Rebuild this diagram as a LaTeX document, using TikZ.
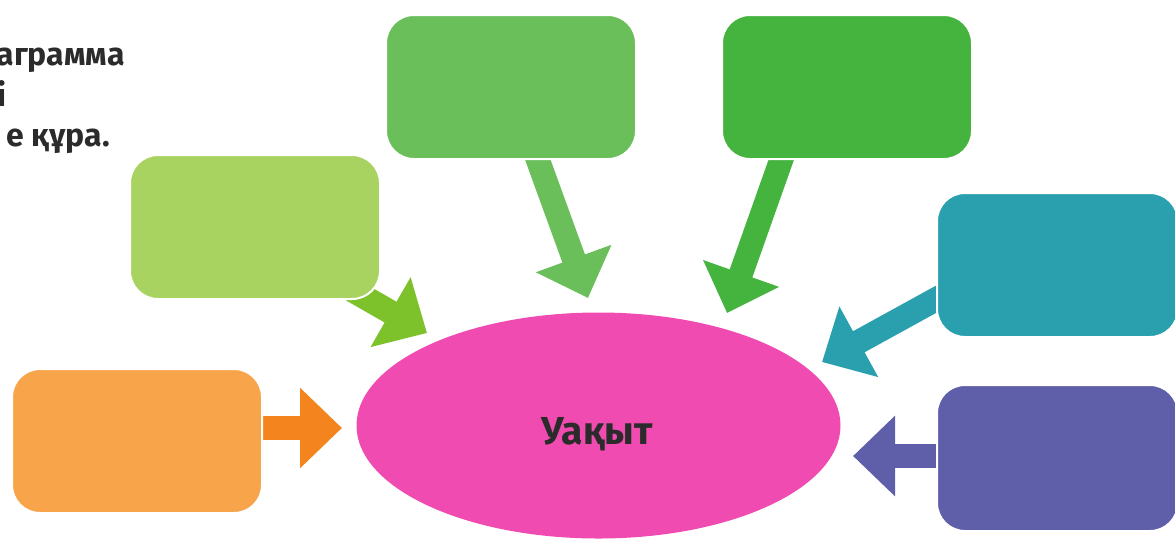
\documentclass[tikz,border=0pt]{standalone}
\usepackage{fontspec}
\setmainfont{Fira Sans}
\usetikzlibrary{arrows.meta,shapes.geometric}
\definecolor{cTopMid}{HTML}{6ABF5B}
\definecolor{cTopRight}{HTML}{45B43F}
\definecolor{cLeft}{HTML}{A9D360}
\definecolor{cLeftArrow}{HTML}{7DC12B}
\definecolor{cTeal}{HTML}{2AA0AF}
\definecolor{cOrange}{HTML}{F8A44B}
\definecolor{cOrangeArrow}{HTML}{F3841E}
\definecolor{cPurple}{HTML}{5E5EA9}
\definecolor{cPink}{HTML}{F04BB0}
\definecolor{cText}{HTML}{2B2B2B}
\tikzset{
  card/.style={rectangle, rounded corners=28pt, minimum width=250pt, minimum height=144pt, inner sep=0pt, draw=white, line width=2pt, anchor=north west},
  blockarrow/.style={line width=24pt, -{Triangle[length=42pt,width=78pt]}},
  headtext/.style={font=\fontsize{32}{40}\selectfont\bfseries, text=cText, inner sep=0pt, anchor=base east},
}
\begin{document}
\begin{tikzpicture}[x=1pt,y=-1pt]
\useasboundingbox (0,0) rectangle (1175,539);
% arrow end points
\coordinate (oS) at (262,428);   \coordinate (oE) at (342,428);
\coordinate (pS) at (940,456);   \coordinate (pE) at (853,456);
\coordinate (lS) at (352,290);   \coordinate (lE) at (427,333);
\coordinate (mS) at (535,152);   \coordinate (mE) at (588,298);
\coordinate (rS) at (784,152);   \coordinate (rE) at (727,313);
\coordinate (tS) at (942,296);   \coordinate (tE) at (822,362);
% arrows
\draw[blockarrow, cOrangeArrow] (oS) -- (oE);
\draw[blockarrow, cPurple] (pS) -- (pE);
\draw[blockarrow, cLeftArrow] (lS) -- (lE);
\draw[blockarrow, cTopMid] (mS) -- (mE);
\draw[blockarrow, cTopRight] (rS) -- (rE);
\draw[blockarrow, cTeal] (tS) -- (tE);
% boxes
\node[card, fill=cTopMid]   (bTopMid)   at (385,14)  {};
\node[card, fill=cTopRight] (bTopRight) at (721,14)  {};
\node[card, fill=cLeft]     (bLeft)     at (129,154) {};
\node[card, fill=cTeal, minimum width=241pt]   (bTeal)   at (936,192) {};
\node[card, fill=cOrange]   (bOrange)   at (11,368)  {};
\node[card, fill=cPurple, minimum width=241pt, minimum height=146pt] (bPurple) at (936,384) {};
% ellipse
\node[ellipse, fill=cPink, minimum width=484pt, minimum height=226pt, inner sep=0pt] (center) at (598.5,425.5) {};
\node[font=\fontsize{39}{44}\selectfont\bfseries, text=cText, inner sep=0pt, anchor=base] (centerText) at (597,444) {Уақыт};
% heading text (cut at left edge)
\node[headtext] (h1) at (125,65)  {аграмма};
\node[headtext] (h2) at (7,106)   {і};
\node[headtext] (h3) at (110,146) {е құра.};
\end{tikzpicture}
\end{document}
